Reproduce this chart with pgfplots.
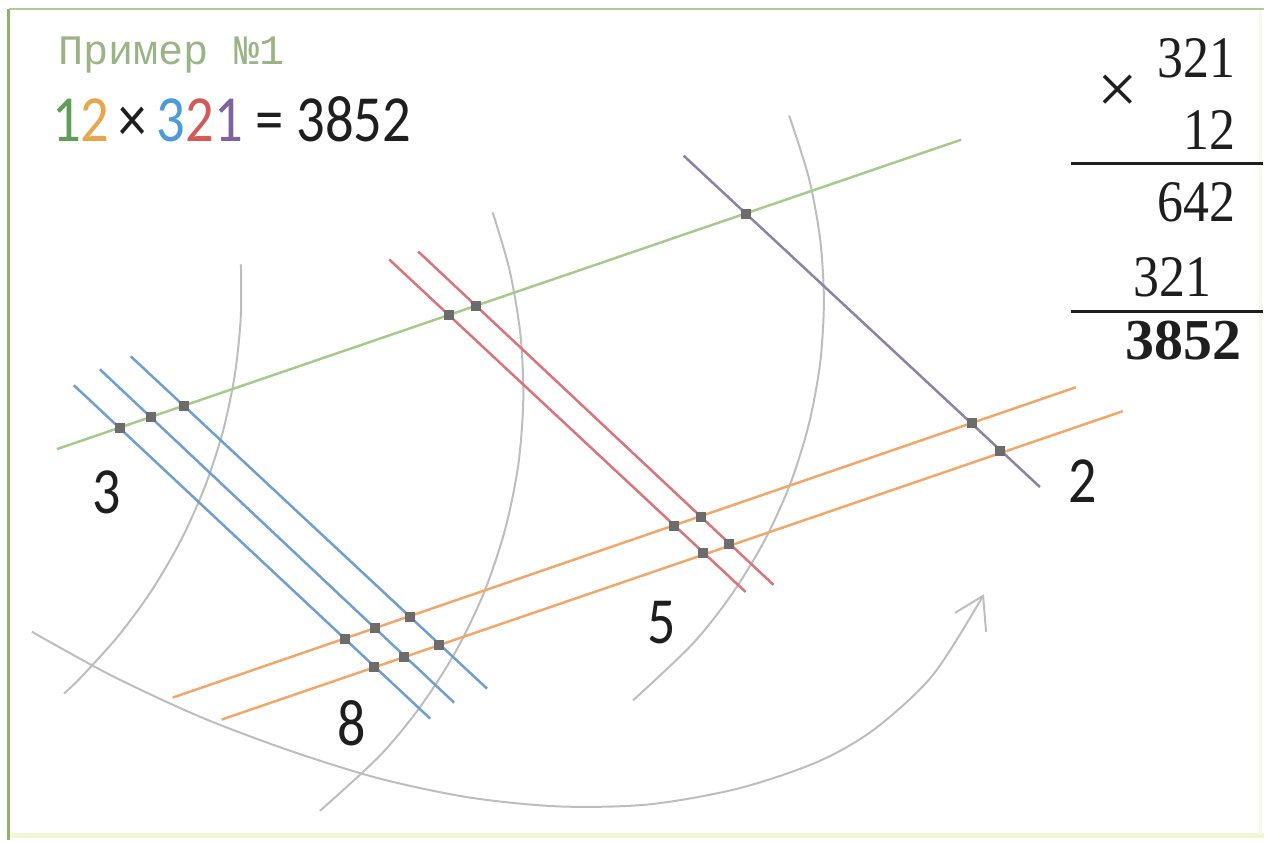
\documentclass[border=0pt]{standalone}
\usepackage{pgfplots}
\pgfplotsset{compat=1.18}
\usepackage{fontspec}
\setmainfont{Carlito}
\newfontfamily\seriff{Liberation Serif}
\newfontfamily\monof{Liberation Mono}
\definecolor{frameg}{HTML}{8DB36B}
\definecolor{framel}{HTML}{EEF6D2}
\definecolor{lgreen}{HTML}{A8C98C}
\definecolor{lorange}{HTML}{F2A76A}
\definecolor{lblue}{HTML}{6E9FCF}
\definecolor{lred}{HTML}{D9737C}
\definecolor{lpurple}{HTML}{8C82A6}
\definecolor{arcgray}{HTML}{BDBDBD}
\definecolor{mkgray}{HTML}{6C6C6C}
\definecolor{titleg}{HTML}{9AB486}
\definecolor{dg}{HTML}{5E9E55}
\definecolor{do}{HTML}{E9A54A}
\definecolor{db}{HTML}{4D9AD6}
\definecolor{dr}{HTML}{D45A5A}
\definecolor{dp}{HTML}{7F63A0}
\definecolor{txt}{HTML}{1E1E1E}
\begin{document}
\begin{tikzpicture}
\begin{axis}[scale only axis, width=1266pt, height=842pt,
  xmin=0, xmax=1266, ymin=0, ymax=842, y dir=reverse,
  hide axis, clip=false]
\addplot[draw=none, forget plot] coordinates {(0,0) (1266,842)};
% frame
\addplot[framel, line width=5pt] coordinates {(9,837) (1266,837)};
\addplot[framel!60, line width=3pt] coordinates {(1263,9) (1263,837)};
\addplot[frameg, line width=3pt] coordinates {(9,842) (9,9)};
\addplot[frameg!70, line width=2.5pt] coordinates {(9,9) (1266,9)};
% gray arcs
\addplot[arcgray, line width=2pt, smooth] coordinates {(241.4,265.0) (241.2,318.8) (235.2,376.0) (223.3,432.4) (205.5,487.1) (182.1,539.7) (153.3,589.6) (119.4,636.1) (80.9,678.9) (64.1,694.9)};
\addplot[arcgray, line width=2pt, smooth] coordinates {(493.7,212.9) (510.7,271.2) (521.5,335.8) (524.3,401.2) (519.2,466.4) (506.1,530.5) (485.4,592.6) (457.2,651.7) (422.0,706.9) (380.4,757.4) (320.5,812.5)};
\addplot[arcgray, line width=2pt, smooth] coordinates {(790.7,115.8) (810.2,177.4) (821.7,239.1) (825.5,301.7) (821.7,364.3) (810.2,426.0) (791.4,485.9) (765.3,543.0) (732.5,596.5) (693.5,645.6) (634.3,701.7)};
\addplot[arcgray, line width=2pt, smooth] coordinates {(32,633) (110,676) (200,718) (290,752) (380,780) (470,799) (560,808) (650,806) (740,790) (820,763) (877,730) (935,676) (985,597)};
\addplot[arcgray, line width=2pt] coordinates {(957,614) (985,597) (988,633)};
% coloured lines
\addplot[lgreen, line width=2.5pt] coordinates {(57,450) (963,140)};
\addplot[lorange, line width=2.5pt] coordinates {(173,699) (1078,388)};
\addplot[lorange, line width=2.5pt] coordinates {(222,721) (1125,412)};
\addplot[lblue, line width=2.5pt] coordinates {(74,386) (431,720)};
\addplot[lblue, line width=2.5pt] coordinates {(100,370) (455,704)};
\addplot[lblue, line width=2.5pt] coordinates {(131,357) (488,690)};
\addplot[lred, line width=2.5pt] coordinates {(390,260) (747,593)};
\addplot[lred, line width=2.5pt] coordinates {(419,252) (775,586)};
\addplot[lpurple, line width=2.5pt] coordinates {(685,156) (1042,488)};
% intersection markers
\addplot[only marks, mark=square*, mark size=4.5pt, mark options={draw=mkgray, fill=mkgray}] coordinates {
(119.5,428.6) (150.9,417.9) (184.1,406.5) (449.7,315.6) (476.9,306.3) (747.2,213.8)
(345.3,639.8) (375.7,629.4) (410.2,617.5) (675.5,526.3) (701.8,517.3) (973.2,424.0)
(374.6,668.0) (404.8,657.6) (439.5,645.6) (704.3,554.2) (730.4,545.2) (1001.5,451.6)
};
% horizontal rules of the column multiplication
\addplot[txt, line width=3pt] coordinates {(1073,164) (1265,164)};
\addplot[txt, line width=3pt] coordinates {(1073,312) (1265,312)};
% texts
\node[anchor=base west, inner sep=0pt, text=titleg] at (axis cs:58,65) {\fontsize{42}{42}\selectfont\monof Пример №1};
\node[anchor=base west, inner sep=0pt, xscale=0.86] at (axis cs:52,142) {\fontsize{66}{66}\selectfont{\color{dg}1}{\color{do}2}\,{\color{txt}×}\,{\color{db}3}{\color{dr}2}{\color{dp}1} {\color{txt}= 3852}};
\node[anchor=base east, inner sep=0pt, xscale=0.88, text=txt] at (axis cs:1238,78) {\fontsize{59}{59}\selectfont\seriff 321};
\node[anchor=base east, inner sep=0pt, xscale=0.88, text=txt] at (axis cs:1238,150) {\fontsize{59}{59}\selectfont\seriff 12};
\node[anchor=base east, inner sep=0pt, xscale=0.88, text=txt] at (axis cs:1238,222) {\fontsize{59}{59}\selectfont\seriff 642};
\node[anchor=base east, inner sep=0pt, xscale=0.88, text=txt] at (axis cs:1214,297) {\fontsize{59}{59}\selectfont\seriff 321};
\node[anchor=base east, inner sep=0pt, text=txt] at (axis cs:1244,360) {\fontsize{58}{58}\selectfont\seriff\bfseries 3852};
\node[anchor=center, inner sep=0pt, text=txt] at (axis cs:1120,94) {\fontsize{72}{72}\selectfont\seriff ×};
\node[anchor=base, inner sep=0pt, xscale=0.85, text=txt] at (axis cs:107,515) {\fontsize{66}{66}\selectfont 3};
\node[anchor=base, inner sep=0pt, xscale=0.85, text=txt] at (axis cs:352,747) {\fontsize{66}{66}\selectfont 8};
\node[anchor=base, inner sep=0pt, xscale=0.85, text=txt] at (axis cs:663,645) {\fontsize{66}{66}\selectfont 5};
\node[anchor=base, inner sep=0pt, xscale=0.85, text=txt] at (axis cs:1085,503) {\fontsize{66}{66}\selectfont 2};
\end{axis}
\end{tikzpicture}
\end{document}
